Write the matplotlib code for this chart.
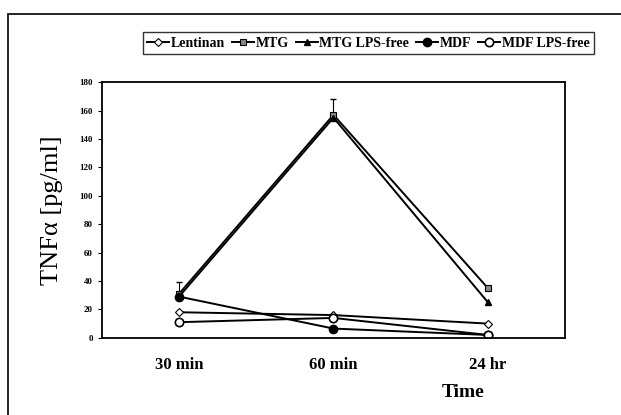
import matplotlib.pyplot as plt
from matplotlib.patches import Rectangle

# data
times = ['30 min', '60 min', '24 hr']
lentinan = [18, 16, 10]
mtg = [31, 157, 35]
mtg_err = [8, 11, 0]
mtg_lps_free = [29, 155, 25]
mdf = [29, 6.5, 2]
mdf_lps_free = [11, 14, 2]

plt.rcParams['font.family'] = ['Liberation Serif', 'DejaVu Serif']

fig = plt.figure(figsize=(6.21, 4.15), dpi=100)
ax = fig.add_axes([0.164, 0.186, 0.746, 0.616])

x = [0.5, 1.5, 2.5]

h1, = ax.plot(x, lentinan, color='black', lw=1.4, marker='D', ms=4,
              mfc='white', mec='black', mew=0.8)
ax.errorbar(x, mtg, yerr=[[0, 0, 0], mtg_err], fmt='none', ecolor='black',
            capsize=2, elinewidth=0.8)
h2, = ax.plot(x, mtg, color='black', lw=1.4, marker='s', ms=5,
              mfc='#888888', mec='black', mew=0.8)
h3, = ax.plot(x, mtg_lps_free, color='black', lw=1.4, marker='^', ms=5,
              mfc='black', mec='black')
h4, = ax.plot(x, mdf, color='black', lw=1.4, marker='o', ms=6,
              mfc='black', mec='black')
h5, = ax.plot(x, mdf_lps_free, color='black', lw=1.4, marker='o', ms=6,
              mfc='white', mec='black', mew=1.2)

ax.set_xlim(0, 3)
ax.set_ylim(0, 180)
ax.set_yticks(range(0, 181, 20))
ax.set_xticks(x)
ax.set_xticklabels(times, fontsize=12, fontweight='bold')
ax.tick_params(axis='x', length=0, pad=14)
ax.tick_params(axis='y', labelsize=6.5, length=3, direction='out')
for lbl in ax.get_yticklabels():
    lbl.set_fontweight('bold')
for s in ax.spines.values():
    s.set_linewidth(1.3)

ax.set_ylabel('TNFα [pg/ml]', fontsize=19, labelpad=12)
fig.text(0.745, 0.043, 'Time', fontsize=14, fontweight='bold', ha='center')

# legend box above the plot
leg = fig.legend([h1, h2, h3, h4, h5],
                 ['Lentinan', 'MTG', 'MTG LPS-free', 'MDF', 'MDF LPS-free'],
                 loc='center', bbox_to_anchor=(0.593, 0.896),
                 ncol=5, frameon=True, fancybox=False, edgecolor='black',
                 handlelength=1.6, handletextpad=0.1, columnspacing=0.5,
                 borderpad=0.3, prop={'size': 10, 'weight': 'bold'})
leg.get_frame().set_linewidth(1.0)

# outer frame
fig.patches.append(Rectangle((0.013, -0.05), 1.2, 1.016, transform=fig.transFigure,
                             fill=False, edgecolor='black', lw=1.2))

plt.savefig('out.png', dpi=100)
